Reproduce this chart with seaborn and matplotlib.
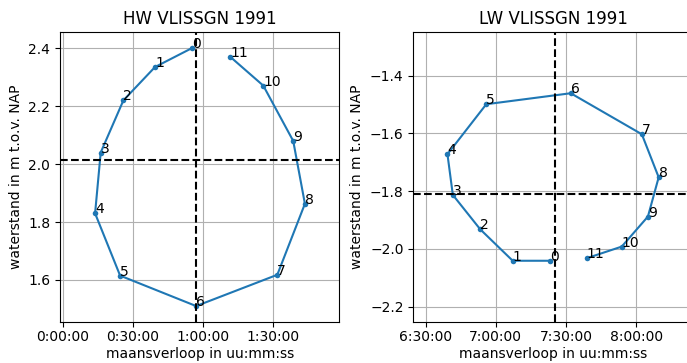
import matplotlib
matplotlib.use("Agg")
import matplotlib.pyplot as plt
from matplotlib.ticker import FuncFormatter, MultipleLocator
import numpy as np
import pandas as pd
import seaborn as sns

# Moon-phase index (uur na maansdoorgang)
uur = list(range(12))

# High water: lunar-phase time lag and level
hw_tijd = ["0:55:06", "0:39:24", "0:25:54", "0:16:12", "0:13:48", "0:24:30",
           "0:57:00", "1:31:42", "1:43:30", "1:38:30", "1:25:42", "1:11:30"]
hw_stand = [2.400, 2.335, 2.220, 2.040, 1.830, 1.615,
            1.510, 1.618, 1.863, 2.080, 2.271, 2.371]

# Low water: lunar-phase time lag and level
lw_tijd = ["7:23:06", "7:07:12", "6:53:18", "6:41:36", "6:39:18", "6:55:54",
           "7:32:00", "8:02:24", "8:09:36", "8:05:00", "7:53:48", "7:38:54"]
lw_stand = [-2.041, -2.041, -1.932, -1.813, -1.672, -1.499,
            -1.461, -1.603, -1.752, -1.888, -1.992, -2.032]


def hms(sec, _pos=None):
    sec = int(round(sec))
    return f"{sec // 3600}:{(sec % 3600) // 60:02d}:{sec % 60:02d}"


def panel(ax, tijd, stand, titel, xlim, ylim):
    df = pd.DataFrame({
        "uur": uur,
        "sec": pd.to_timedelta(tijd).total_seconds(),
        "stand": stand,
    })
    ax.grid(True, color="#b0b0b0", linewidth=0.8)
    ax.set_axisbelow(True)
    sns.lineplot(data=df, x="sec", y="stand", sort=False, estimator=None,
                 marker="o", markersize=4, markeredgewidth=0,
                 color="#1f77b4", linewidth=1.5, ax=ax)
    for _, r in df.iterrows():
        ax.text(r["sec"], r["stand"], str(int(r["uur"])), fontsize=10,
                color="black")
    ax.axvline(df["sec"].mean(), color="k", linestyle="--", linewidth=1.5)
    ax.axhline(df["stand"].mean(), color="k", linestyle="--", linewidth=1.5)
    ax.xaxis.set_major_locator(MultipleLocator(1800))
    ax.xaxis.set_major_formatter(FuncFormatter(hms))
    ax.set_xlim(*xlim)
    ax.set_ylim(*ylim)
    ax.set_title(titel, fontsize=12)
    ax.set_xlabel("maansverloop in uu:mm:ss", fontsize=10, labelpad=2)
    ax.set_ylabel("waterstand in m t.o.v. NAP", fontsize=10)
    ax.tick_params(labelsize=10)
    ax.tick_params(axis="x", pad=2.5)


W, H = 687, 363
fig = plt.figure(figsize=(W / 100, H / 100), dpi=100)
ax1 = fig.add_axes([60 / W, 41.3 / H, 279.3 / W, 289.4 / H])
ax2 = fig.add_axes([413.3 / W, 41.3 / H, 279.3 / W, 289.4 / H])

panel(ax1, hw_tijd, hw_stand, "HW VLISSGN 1991",
      (-1.2 * 60, 118.2 * 60), (1.456, 2.455))
panel(ax2, lw_tijd, lw_stand, "LW VLISSGN 1991",
      (384.7 * 60, 504.1 * 60), (-2.252, -1.250))

fig.savefig("out.png", dpi=100)
